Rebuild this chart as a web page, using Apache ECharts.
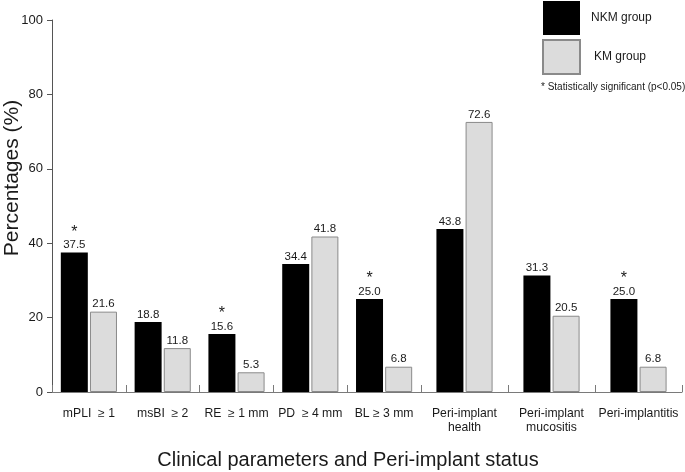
<!DOCTYPE html>
<html>
<head>
<meta charset="utf-8">
<script src="https://cdn.jsdelivr.net/npm/echarts@6/dist/echarts.min.js"></script>
<style>html,body{margin:0;padding:0;background:#fff;}#c{width:685px;height:472px;}</style>
</head>
<body>
<div id="c"></div>
<script>
const categories = ['mPLI  \u2265 1', 'msBI  \u2265 2', 'RE  \u2265 1 mm', 'PD  \u2265 4 mm', 'BL \u2265 3 mm', 'Peri-implant\nhealth', 'Peri-implant\nmucositis', 'Peri-implantitis'];
const nkmValues = [37.5, 18.8, 15.6, 34.4, 25.0, 43.8, 31.3, 25.0];
const kmValues = [21.6, 11.8, 5.3, 41.8, 6.8, 72.6, 20.5, 6.8];
const nkmSignificant = [true, false, true, false, true, false, false, true];
const clinicalCount = 5; // first group: clinical parameters; rest: peri-implant status
const yMin = 0, yMax = 100, yInterval = 20;

const FONT = "'Liberation Sans', Arial, Helvetica, sans-serif";
const chart = echarts.init(document.getElementById('c'), null, {renderer: 'canvas'});

function labelFor(sigArr, offset) {
  return {
    show: true,
    position: 'top',
    distance: 1,
    formatter: function (p) {
      const v = '{v|' + Number(p.value).toFixed(1) + '}';
      return (sigArr && sigArr[p.dataIndex + offset]) ? '{s|*}\n' + v : v;
    },
    rich: {
      v: {fontSize: 11.5, lineHeight: 13, fontFamily: FONT, color: '#1a1a1a'},
      s: {fontSize: 16, lineHeight: 12, fontFamily: FONT, color: '#1a1a1a'}
    }
  };
}

const groups = [
  {start: 0, end: clinicalCount},
  {start: clinicalCount, end: categories.length}
];

const xAxes = groups.map((g, i) => ({
  type: 'category',
  gridIndex: i,
  data: categories.slice(g.start, g.end),
  axisLine: {lineStyle: {color: '#7a7a7a', width: 1}},
  axisTick: {show: true, inside: true, length: 7, lineStyle: {color: '#7a7a7a'}},
  axisLabel: {interval: 0, margin: 15, fontSize: 12.2, lineHeight: 14, fontFamily: FONT, color: '#1a1a1a'}
}));

const yAxes = groups.map((g, i) => ({
  type: 'value',
  gridIndex: i,
  min: yMin, max: yMax, interval: yInterval,
  show: i === 0,
  splitLine: {show: false},
  axisLine: {show: true, lineStyle: {color: '#555', width: 1}},
  axisTick: {show: true, length: 5, lineStyle: {color: '#555'}},
  axisLabel: {margin: 9, fontSize: 13, fontFamily: FONT, color: '#1a1a1a', padding: [10, 0, 0, 0]}
}));

const series = [];
groups.forEach((g, i) => {
  series.push({
    name: 'NKM group', type: 'bar', xAxisIndex: i, yAxisIndex: i,
    data: nkmValues.slice(g.start, g.end),
    barWidth: 27, barGap: '8%',
    itemStyle: {color: '#000000', borderColor: '#000000', borderWidth: 0},
    label: labelFor(nkmSignificant, g.start)
  });
  series.push({
    name: 'KM group', type: 'bar', xAxisIndex: i, yAxisIndex: i,
    data: kmValues.slice(g.start, g.end),
    barWidth: 27, barGap: '8%',
    itemStyle: {color: '#dcdcdc', borderColor: '#8a8a8a', borderWidth: 1},
    label: labelFor(null, g.start)
  });
});

chart.setOption({
  animation: false,
  backgroundColor: '#ffffff',
  grid: [
    {left: 52, top: 20, bottom: 80, width: 369},
    {left: 421, right: 3, top: 20, bottom: 80}
  ],
  legend: {
    orient: 'vertical', left: 542, top: 1, padding: 0,
    itemWidth: 37, itemHeight: 34, itemGap: 4,
    icon: 'rect',
    selectedMode: false,
    data: [
      {name: 'NKM group'},
      {name: 'KM group', textStyle: {padding: [0, 0, 7, 9]}}
    ],
    textStyle: {fontSize: 12, fontFamily: FONT, color: '#1a1a1a', padding: [0, 0, 6, 6]}
  },
  xAxis: xAxes,
  yAxis: yAxes,
  series: series,
  graphic: [
    {type: 'text', x: 541, y: 87, style: {text: '* Statistically significant (p<0.05)', fontSize: 10, fontFamily: FONT, fill: '#1a1a1a', align: 'left', verticalAlign: 'middle'}},
    {type: 'text', x: 348, y: 460, style: {text: 'Clinical parameters and Peri-implant status', fontSize: 20, fontFamily: FONT, fill: '#1a1a1a', align: 'center', verticalAlign: 'middle'}},
    {type: 'text', x: 12, y: 178, rotation: Math.PI / 2, style: {text: 'Percentages (%)', fontSize: 21, fontFamily: FONT, fill: '#1a1a1a', align: 'center', verticalAlign: 'middle'}}
  ]
});
</script>
</body>
</html>
